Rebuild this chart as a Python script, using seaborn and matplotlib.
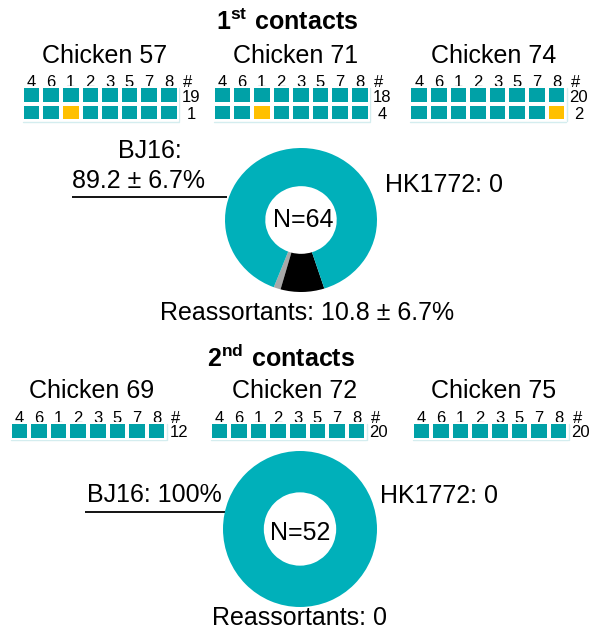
import numpy as np
import pandas as pd
import matplotlib
matplotlib.use("Agg")
import matplotlib.pyplot as plt
import matplotlib.transforms as mtrans
from matplotlib.colors import ListedColormap
import seaborn as sns

# ---------------- data ----------------
segments = ["4", "6", "1", "2", "3", "5", "7", "8"]

first_title = r"$\mathbf{1^{st}\ contacts}$"
second_title = r"$\mathbf{2^{nd}\ contacts}$"

first_chickens = ["Chicken 57", "Chicken 71", "Chicken 74"]
c57_genotypes = [[0, 0, 0, 0, 0, 0, 0, 0], [0, 0, 1, 0, 0, 0, 0, 0]]
c57_counts = [19, 1]
c71_genotypes = [[0, 0, 0, 0, 0, 0, 0, 0], [0, 0, 1, 0, 0, 0, 0, 0]]
c71_counts = [18, 4]
c74_genotypes = [[0, 0, 0, 0, 0, 0, 0, 0], [0, 0, 0, 0, 0, 0, 0, 1]]
c74_counts = [20, 2]

second_chickens = ["Chicken 69", "Chicken 72", "Chicken 75"]
c69_genotypes = [[0, 0, 0, 0, 0, 0, 0, 0]]
c69_counts = [12]
c72_genotypes = [[0, 0, 0, 0, 0, 0, 0, 0]]
c72_counts = [20]
c75_genotypes = [[0, 0, 0, 0, 0, 0, 0, 0]]
c75_counts = [20]

pie_groups = ["Reassortant B", "Reassortant A", "BJ16", "HK1772"]
first_shares = [1.5, 9.3, 89.2, 0.0]
second_shares = [0.0, 0.0, 100.0, 0.0]

first_texts = {"bj1": "BJ16:", "bj2": "89.2 ± 6.7%", "hk": "HK1772: 0",
               "n": "N=64", "re": "Reassortants: 10.8 ± 6.7%"}
second_texts = {"bj": "BJ16: 100%", "hk": "HK1772: 0",
                "n": "N=52", "re": "Reassortants: 0"}

# ---------------- style ----------------
sns.set_theme(style="white")
plt.rcParams["font.family"] = ["Liberation Sans", "DejaVu Sans"]
plt.rcParams["text.color"] = "black"
plt.rcParams["mathtext.fontset"] = "custom"
plt.rcParams["mathtext.rm"] = "Liberation Sans"
plt.rcParams["mathtext.bf"] = "Liberation Sans:bold"

TEAL_GRID = "#00A1A7"
TEAL_PIE = "#00B0BA"
YELLOW = "#FFC000"
pie_colors = ["#A8A8A8", "#000000", TEAL_PIE, YELLOW]
FAINT = "#D4EDEF"

W, H, DPI = 595, 630, 100
fig = plt.figure(figsize=(W / DPI, H / DPI), dpi=DPI)
canvas = fig.add_axes([0, 0, 1, 1])
canvas.set_xlim(0, W)
canvas.set_ylim(H, 0)
canvas.axis("off")


def px_axes(x, y, w, h):
    ax = fig.add_axes([x / W, 1 - (y + h) / H, w / W, h / H])
    ax.patch.set_alpha(0)
    return ax


BIG = 18
SMALL = 12
COLP, ROWP = 19.6, 17.5
GAP_PX = 3.6
LW_PT = GAP_PX * 72 / DPI


def draw_grid(left, top, genotypes, counts, digit_base):
    n = len(genotypes)
    ax = px_axes(left, top, 8 * COLP, n * ROWP)
    df = pd.DataFrame(genotypes, columns=segments)
    sns.heatmap(df, ax=ax, cmap=ListedColormap([TEAL_GRID, YELLOW]),
                vmin=0, vmax=1, cbar=False, linewidths=LW_PT,
                linecolor="white", xticklabels=False, yticklabels=False)
    ax.set_xlabel("")
    ax.set_ylabel("")
    right = left + 8 * COLP
    bottom = top + n * ROWP
    canvas.plot([left + 1, right], [bottom + 0.8, bottom + 0.8], color=FAINT, lw=1.0)
    canvas.plot([right + 0.8, right + 0.8], [top + 2, bottom], color=FAINT, lw=1.0)
    trans = mtrans.blended_transform_factory(ax.transData, canvas.transData)
    for j, s in enumerate(segments):
        canvas.text(j + 0.5, digit_base, s, transform=trans, ha="center",
                    va="baseline", fontsize=SMALL)
    canvas.text(right + 9.5, digit_base, "#", ha="center", va="baseline",
                fontsize=SMALL)
    for i, c in enumerate(counts):
        yb = top + (i + 1) * ROWP - 2.2
        canvas.text(right + 12.5, yb, str(c), ha="center", va="baseline",
                    fontsize=SMALL)


def draw_donut(cx, cy, rx, ry, shares):
    ax = px_axes(cx - rx, cy - ry, 2 * rx, 2 * ry)
    vals = [v for v in shares if v > 0]
    cols = [c for v, c in zip(shares, pie_colors) if v > 0]
    ax.pie(vals, colors=cols, startangle=249, counterclock=True, radius=1,
           wedgeprops=dict(width=0.53, linewidth=0, edgecolor="none"))
    ax.set_aspect("auto")
    ax.set_xlim(-1, 1)
    ax.set_ylim(-1, 1)
    ax.axis("off")


# ---------------- 1st contacts ----------------
canvas.text(287, 30, first_title, ha="center", va="baseline", fontsize=BIG)
for x, t in zip([104.5, 296, 494], first_chickens):
    canvas.text(x, 63, t, ha="center", va="baseline", fontsize=BIG)
for left, g, c in zip([21.7, 212.7, 409.4],
                      [c57_genotypes, c71_genotypes, c74_genotypes],
                      [c57_counts, c71_counts, c74_counts]):
    draw_grid(left, 86.2, g, c, 87)

draw_donut(301, 220, 76, 72, first_shares)
canvas.text(150, 158, first_texts["bj1"], ha="center", va="baseline", fontsize=BIG)
canvas.text(72, 188, first_texts["bj2"], ha="left", va="baseline", fontsize=BIG)
canvas.plot([72, 227], [197, 197], color="black", lw=1.3, solid_capstyle="butt")
canvas.text(385, 192, first_texts["hk"], ha="left", va="baseline", fontsize=BIG)
canvas.text(303, 227, first_texts["n"], ha="center", va="baseline", fontsize=BIG)
canvas.text(307, 320, first_texts["re"], ha="center", va="baseline", fontsize=BIG)

# ---------------- 2nd contacts ----------------
canvas.text(281.5, 367, second_title, ha="center", va="baseline", fontsize=BIG)
for x, t in zip([91.7, 295, 494], second_chickens):
    canvas.text(x, 398, t, ha="center", va="baseline", fontsize=BIG)
for left, g, c in zip([9.5, 209.5, 411.5],
                      [c69_genotypes, c72_genotypes, c75_genotypes],
                      [c69_counts, c72_counts, c75_counts]):
    draw_grid(left, 422.1, g, c, 423)

draw_donut(300, 529, 77, 78, second_shares)
canvas.text(87, 502, second_texts["bj"], ha="left", va="baseline", fontsize=BIG)
canvas.plot([85, 225], [512, 512], color="black", lw=1.3, solid_capstyle="butt")
canvas.text(380, 503, second_texts["hk"], ha="left", va="baseline", fontsize=BIG)
canvas.text(300, 540, second_texts["n"], ha="center", va="baseline", fontsize=BIG)
canvas.text(300, 625, second_texts["re"], ha="center", va="baseline", fontsize=BIG)

fig.savefig("out.png", dpi=DPI)
